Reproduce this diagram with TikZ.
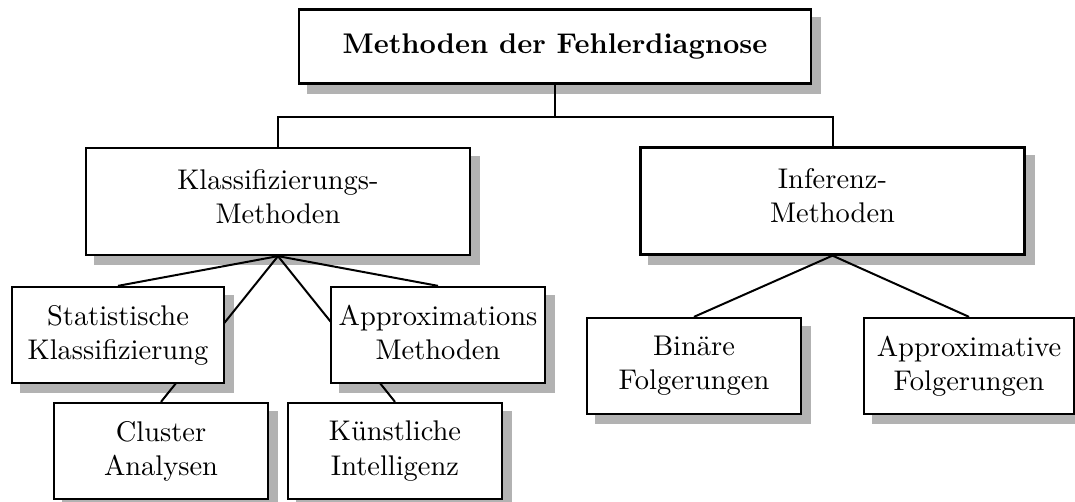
\documentclass[tikz,border=0pt]{standalone}
\usepackage{fontspec}
\pgfdeclarelayer{shadow}
\pgfdeclarelayer{wires}
\pgfsetlayers{shadow,wires,main}
\def\px{0.3515pt}
\begin{document}
\begin{tikzpicture}[x=\px, y=-\px,
  box/.style={draw, line width=0.8pt, fill=white, align=center, inner sep=0pt},
  smallbox/.style={box, minimum width=214*\px, minimum height=96*\px, text depth=2pt},
  bigbox/.style={box, minimum width=384*\px, minimum height=107*\px, text depth=3.7pt},
  topbox/.style={box, minimum width=512*\px, minimum height=74*\px, font=\bfseries},
  wire/.style={line width=0.7pt},
  shade/.style={fill=black!30}]
\useasboundingbox (0,0) rectangle (1075,502);

% boxes
\node[topbox] (root) at (555,46.5) {Methoden der Fehlerdiagnose};
\node[bigbox] (klass) at (278,201.5) {Klassifizierungs-\\Methoden};
\node[bigbox] (inf) at (832.5,201) {Inferenz-\\Methoden};
\node[smallbox, minimum width=212*\px] (stat) at (118,335) {Statistische\\Klassifizierung};
\node[smallbox] (apm) at (438,335) {Approximations\\Methoden};
\node[smallbox] (clu) at (161,451) {Cluster\\Analysen};
\node[smallbox] (ki) at (395,451) {Künstliche\\Intelligenz};
\node[smallbox] (bin) at (694,366) {Binäre\\Folgerungen};
\node[smallbox, minimum width=210*\px] (apf) at (969,366) {Approximative\\Folgerungen};

% drop shadows below everything
\begin{pgfonlayer}{shadow}
  \foreach \n in {root,klass,inf,stat,apm,clu,ki,bin,apf}
    \fill[shade] ([shift={(9,9)}]\n.south west) rectangle ([shift={(9,9)}]\n.north east);
\end{pgfonlayer}

% connectors, hidden behind the white box fills
\begin{pgfonlayer}{wires}
  \path (root.south) ++(0,32) coordinate (bus);
  \draw[wire] (root.south) -- (bus);
  \draw[wire] (klass.north) |- (bus) -| (inf.north);
  \draw[wire] (klass.south) -- (stat.north);
  \draw[wire] (klass.south) -- (clu.north);
  \draw[wire] (klass.south) -- (apm.north);
  \draw[wire] (klass.south) -- (ki.north);
  \draw[wire] (inf.south) -- (bin.north);
  \draw[wire] (inf.south) -- (apf.north);
\end{pgfonlayer}
\end{tikzpicture}
\end{document}
